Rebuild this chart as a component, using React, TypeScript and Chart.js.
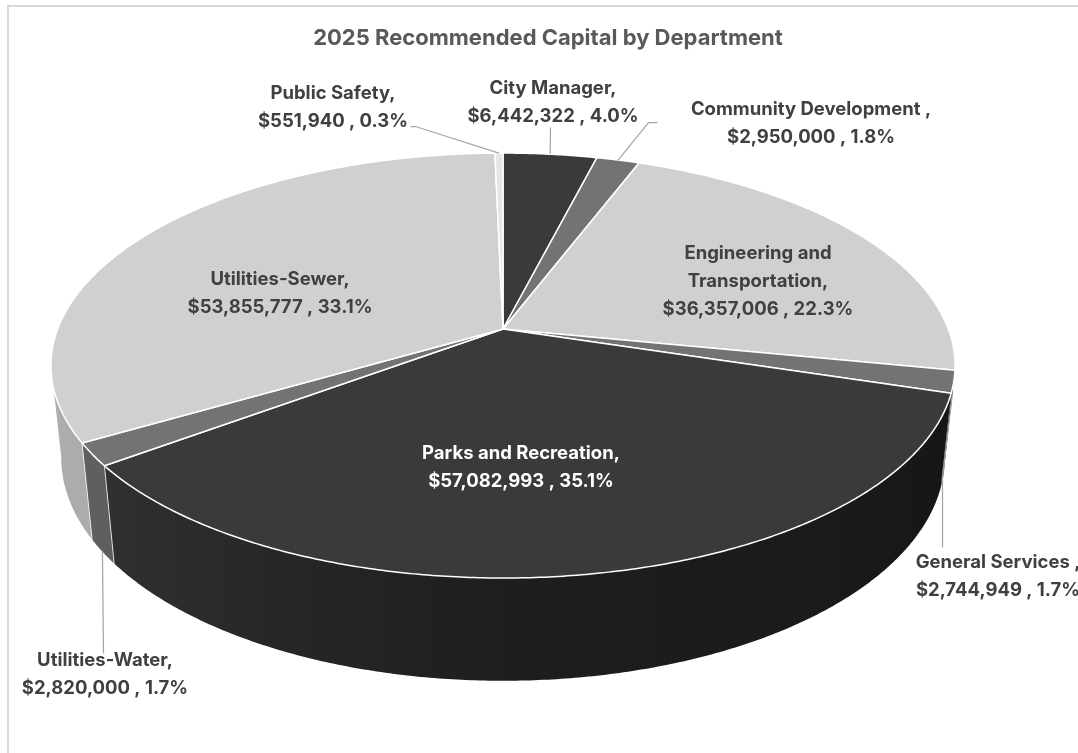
import React, { useEffect, useRef } from "react";
import { Chart, registerables } from "chart.js";

Chart.register(...registerables);

const departments = [
  "City Manager",
  "Community Development",
  "Engineering and Transportation",
  "General Services",
  "Parks and Recreation",
  "Utilities-Water",
  "Utilities-Sewer",
  "Public Safety",
];
const capitalValues = [6442322, 2950000, 36357006, 2744949, 57082993, 2820000, 53855777, 551940];
const sliceColors = ["#3a3a3a", "#737373", "#d0d0d0", "#737373", "#3a3a3a", "#737373", "#d0d0d0", "#e6e6e6"];
const labelNames = [
  ["City Manager,"],
  ["Community Development ,"],
  ["Engineering and", "Transportation,"],
  ["General Services ,"],
  ["Parks and Recreation,"],
  ["Utilities-Water,"],
  ["Utilities-Sewer,"],
  ["Public Safety,"],
];

// Centre x and first-line y of each data label block
const labelAnchors = [
  [553, 88],
  [811, 109],
  [758, 253],
  [998, 562],
  [521, 453],
  [105, 660],
  [280, 279],
  [333, 93],
];
const labelColors = ["#404040", "#404040", "#404040", "#404040", "#ffffff", "#404040", "#404040", "#404040"];

// Leader polylines: fixed elbow points, ending on the slice's rim at height z
const leaders: { slice: number; z: number; elbows: number[][] }[] = [
  { slice: 7, z: 0, elbows: [[410, 126], [415, 126]] },
  { slice: 0, z: 0, elbows: [[550, 127]] },
  { slice: 1, z: 0, elbows: [[657, 122], [648, 122]] },
  { slice: 3, z: 0.13, elbows: [[942, 547], [942, 477]] },
  { slice: 5, z: 1, elbows: [[103, 653]] },
];

// Perspective projection of the pie's disc onto the canvas
const CX = 503;
const CY = 329;
const A = 445.3;
const B = 206.2;
const Q = 0.172;
const G = 0.0225;
const D = 93;

// Clockwise angles between which the outer wall faces the viewer
const WALL_FROM = 99.5;
const WALL_TO = 260.5;

function project(theta: number, z = 0) {
  const x = Math.sin(theta);
  const y = -Math.cos(theta);
  const w = 1 - Q * y + G * z;
  return { x: CX + (A * x) / w, y: CY + (B * y + D * z) / w };
}

// Brightness of the outer wall, by clockwise angle from the top of the disc
const shadeStops = [
  [0, 0.6],
  [100, 0.37],
  [180, 0.52],
  [233, 0.82],
  [270, 0.84],
  [360, 0.8],
];

function shade(deg: number) {
  for (let i = 1; i < shadeStops.length; i++) {
    const [a, sa] = shadeStops[i - 1];
    const [b, sb] = shadeStops[i];
    if (deg <= b) return sa + ((sb - sa) * (deg - a)) / (b - a);
  }
  return 0.8;
}

function darken(hex: string, f: number) {
  const v = parseInt(hex.slice(1, 3), 16);
  const c = Math.round(v * f);
  return `rgb(${c},${c},${c})`;
}

const RAD = Math.PI / 180;

const pie3d = {
  id: "pie3d",
  beforeDraw(chart: Chart) {
    const { ctx, width, height } = chart;
    ctx.save();
    ctx.fillStyle = "#ffffff";
    ctx.fillRect(0, 0, width, height);
    ctx.strokeStyle = "#d9d9d9";
    ctx.lineWidth = 2;
    ctx.beginPath();
    ctx.moveTo(8, height);
    ctx.lineTo(8, 6);
    ctx.lineTo(width, 6);
    ctx.stroke();
    ctx.restore();
  },
  beforeDatasetsDraw(chart: Chart) {
    const { ctx } = chart;
    const arcs = chart.getDatasetMeta(0).data as any[];
    const spans = arcs.map((a, i) => ({
      start: a.startAngle + Math.PI / 2,
      end: a.endAngle + Math.PI / 2,
      color: sliceColors[i],
    }));
    ctx.save();

    // Outer wall of each slice, shaded across its visible width
    spans.forEach((s) => {
      const from = Math.max(s.start / RAD, WALL_FROM);
      const to = Math.min(s.end / RAD, WALL_TO);
      if (to <= from) return;
      const x0 = project(from * RAD, 1).x;
      const x1 = project(to * RAD, 1).x;
      const g = ctx.createLinearGradient(x0, 0, x1, 0);
      for (let k = 0; k <= 16; k++) {
        const deg = from + ((to - from) * k) / 16;
        const off = (project(deg * RAD, 1).x - x0) / (x1 - x0);
        g.addColorStop(Math.min(1, Math.max(0, off)), darken(s.color, shade(deg)));
      }
      const n = Math.max(2, Math.ceil((to - from) * 2));
      const at = (i: number) => (from + ((to - from) * i) / n) * RAD;
      ctx.beginPath();
      for (let i = 0; i <= n; i++) {
        const q = project(at(i));
        i ? ctx.lineTo(q.x, q.y) : ctx.moveTo(q.x, q.y);
      }
      for (let i = n; i >= 0; i--) {
        const q = project(at(i), 1);
        ctx.lineTo(q.x, q.y);
      }
      ctx.closePath();
      ctx.fillStyle = g;
      ctx.fill();
    });

    // Slice seams on the visible part of the wall
    ctx.strokeStyle = "rgba(255,255,255,0.75)";
    ctx.lineWidth = 1;
    spans.forEach((s) => {
      const deg = s.start / RAD;
      if (deg < 110 || deg > 255) return;
      const p = project(s.start);
      const q = project(s.start, 1);
      ctx.beginPath();
      ctx.moveTo(p.x, p.y);
      ctx.lineTo(q.x, q.y);
      ctx.stroke();
    });

    // Top face of each slice
    ctx.strokeStyle = "#ffffff";
    ctx.lineWidth = 1.5;
    ctx.lineJoin = "round";
    spans.forEach((s) => {
      ctx.beginPath();
      ctx.moveTo(CX, CY);
      const n = Math.max(2, Math.ceil((s.end - s.start) / (RAD / 2)));
      for (let i = 0; i <= n; i++) {
        const q = project(s.start + ((s.end - s.start) * i) / n);
        ctx.lineTo(q.x, q.y);
      }
      ctx.closePath();
      ctx.fillStyle = s.color;
      ctx.fill();
      ctx.stroke();
    });
    ctx.restore();
    return false;
  },
  afterDraw(chart: Chart) {
    const { ctx } = chart;
    const arcs = chart.getDatasetMeta(0).data as any[];
    const total = capitalValues.reduce((a, b) => a + b, 0);

    ctx.save();
    ctx.strokeStyle = "#a6a6a6";
    ctx.lineWidth = 1.25;
    leaders.forEach((l) => {
      const a = arcs[l.slice];
      const mid = (a.startAngle + a.endAngle) / 2 + Math.PI / 2;
      const end = project(mid, l.z);
      ctx.beginPath();
      l.elbows.forEach(([x, y], i) => (i ? ctx.lineTo(x + 0.5, y + 0.5) : ctx.moveTo(x + 0.5, y + 0.5)));
      ctx.lineTo(end.x, end.y);
      ctx.stroke();
    });

    ctx.font = "700 18.5px Inter";
    ctx.textAlign = "center";
    ctx.textBaseline = "middle";
    capitalValues.forEach((v, i) => {
      const money = "$" + v.toLocaleString("en-US");
      const pct = ((v / total) * 100).toFixed(1) + "%";
      const lines = [...labelNames[i], `${money} , ${pct}`];
      const [x, y] = labelAnchors[i];
      ctx.fillStyle = labelColors[i];
      lines.forEach((t, k) => ctx.fillText(t, x, y + k * 28));
    });
    ctx.restore();
  },
};

export default function App() {
  const ref = useRef<HTMLCanvasElement>(null);

  useEffect(() => {
    document.body.style.margin = "0";
    document.body.style.overflow = "hidden";
    const chart = new Chart(ref.current!, {
      type: "pie",
      data: {
        labels: departments,
        datasets: [{ data: capitalValues, backgroundColor: sliceColors }],
      },
      options: {
        animation: false,
        responsive: false,
        layout: { padding: { left: 18 } },
        plugins: {
          legend: { display: false },
          tooltip: { enabled: false },
          title: {
            display: true,
            text: "2025 Recommended Capital by Department",
            color: "#595959",
            font: { family: "Inter", size: 22, weight: 700 },
            padding: { top: 25, bottom: 10 },
          },
        },
      },
      plugins: [pie3d],
    });
    return () => chart.destroy();
  }, []);

  return <canvas ref={ref} width={1078} height={753} style={{ display: "block" }} />;
}
